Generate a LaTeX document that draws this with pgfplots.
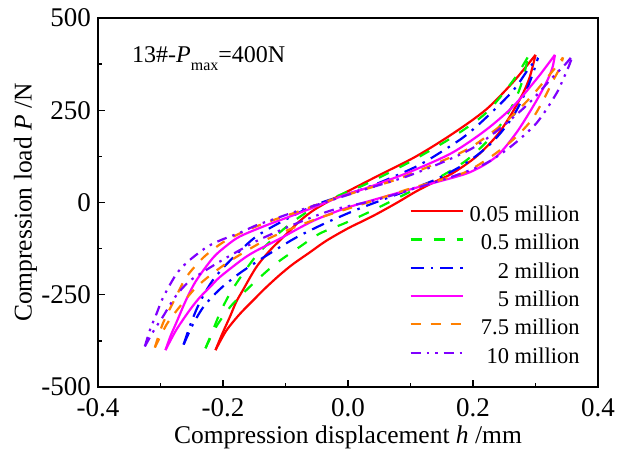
\documentclass[border=0pt]{standalone}
\usepackage{fontspec}
\setmainfont{Liberation Serif}
\usepackage{pgfplots}
\pgfplotsset{compat=1.18}
\definecolor{cred}{RGB}{255,0,0}
\definecolor{cgreen}{RGB}{0,245,0}
\definecolor{cblue}{RGB}{0,0,255}
\definecolor{cmag}{RGB}{255,0,255}
\definecolor{corange}{RGB}{255,128,0}
\definecolor{cpurple}{RGB}{128,0,255}
\begin{document}
\begin{tikzpicture}
\useasboundingbox (-98pt,-78pt) rectangle (520pt,387pt);
\begin{axis}[
  at={(0pt,0pt)}, anchor=south west,
  scale only axis, width=500pt, height=369pt,
  xmin=-0.4, xmax=0.4, ymin=-500, ymax=500,
  xtick={-0.4,-0.2,0,0.2,0.4}, xticklabels={-0.4,-0.2,0.0,0.2,0.4},
  ytick={-500,-250,0,250,500}, yticklabels={-500,-250,0,250,500},
  minor x tick num=1, minor y tick num=1,
  tick align=inside, xtick pos=bottom, ytick pos=left,
  major tick length=7pt, minor tick length=4pt,
  every tick/.style={black, line width=1.3pt},
  axis line style={line width=1.6pt},
  ticklabel style={font=\fontsize{27}{30}\selectfont},
  xticklabel style={anchor=north, inner sep=0pt, yshift=-11pt},
  yticklabel style={anchor=east, inner sep=0pt, xshift=-7pt},
  xlabel={Compression displacement \textit{h} /mm},
  ylabel={Compression load \textit{P} /N},
  label style={font=\fontsize{25.5}{30}\selectfont},
  xlabel style={at={(axis description cs:0.5,-0.1355)}, anchor=center},
  ylabel style={at={(axis description cs:-0.145,0.5)}, anchor=center},
  legend cell align=right,
  legend image code/.code={\draw[#1] (0pt,5pt) -- (52pt,5pt);},
  legend style={draw=none, fill=none, at={(axis cs:0.371,-8)}, anchor=north east,
    inner sep=0pt, row sep=7.3pt, font=\fontsize{22.5}{26}\selectfont,
    nodes={inner sep=0pt, text height=16pt, text depth=5pt},
    /tikz/every odd column/.append style={column sep=6pt}},
  every axis plot/.append style={line width=2.2pt, smooth, tension=0.5},
]
% 0.05 million
\addplot[cred] coordinates {(-0.212,-400) (-0.201,-355) (-0.189,-310) (-0.179,-270) (-0.168,-237) (-0.147,-176) (-0.125,-130) (-0.100,-88) (-0.077,-50) (-0.056,-22) (-0.030,4) (-0.003,28) (0.051,75) (0.109,125) (0.168,187) (0.221,252) (0.264,326) (0.300,400)};
\addlegendentry{0.05 million}
\addplot[cred, forget plot] coordinates {(-0.212,-400) (-0.195,-348) (-0.173,-302) (-0.147,-257) (-0.131,-230) (-0.109,-196) (-0.088,-167) (-0.061,-135) (-0.035,-104) (0.000,-70) (0.024,-50) (0.045,-32) (0.077,-2) (0.109,30) (0.140,57) (0.168,80) (0.205,124) (0.237,179) (0.259,233) (0.280,296) (0.291,341) (0.300,400)};
% 0.5 million
\addplot[cgreen, dash pattern=on 11pt off 12pt] coordinates {(-0.228,-395) (-0.217,-350) (-0.205,-300) (-0.190,-250) (-0.173,-205) (-0.147,-145) (-0.115,-90) (-0.088,-52) (-0.060,-20) (-0.030,7) (0.000,30) (0.029,50) (0.099,110) (0.168,178) (0.221,243) (0.264,330) (0.288,395)};
\addlegendentry{0.5 million}
\addplot[cgreen, dash pattern=on 11pt off 12pt, forget plot] coordinates {(-0.228,-395) (-0.211,-337) (-0.189,-284) (-0.163,-238) (-0.141,-203) (-0.115,-165) (-0.077,-120) (-0.045,-84) (-0.005,-56) (0.035,-25) (0.072,6) (0.110,38) (0.150,72) (0.190,115) (0.225,170) (0.250,225) (0.268,280) (0.280,335) (0.288,395)};
% 2 million
\addplot[cblue, dash pattern=on 13pt off 7pt on 2.5pt off 7pt] coordinates {(-0.263,-385) (-0.252,-330) (-0.237,-270) (-0.216,-210) (-0.189,-158) (-0.149,-95) (-0.104,-50) (-0.050,-5) (-0.003,21) (0.045,50) (0.100,90) (0.131,118) (0.184,176) (0.221,230) (0.264,303) (0.290,365) (0.304,392)};
\addlegendentry{2 million}
\addplot[cblue, dash pattern=on 13pt off 7pt on 2.5pt off 7pt, forget plot] coordinates {(-0.263,-385) (-0.248,-330) (-0.230,-280) (-0.205,-235) (-0.176,-195) (-0.150,-165) (-0.125,-138) (-0.083,-95) (-0.035,-55) (0.013,-20) (0.050,4) (0.088,28) (0.140,62) (0.190,108) (0.230,162) (0.262,228) (0.283,295) (0.296,350) (0.304,392)};
% 5 million
\addplot[cmag] coordinates {(-0.292,-400) (-0.284,-362) (-0.275,-327) (-0.259,-264) (-0.243,-212) (-0.216,-150) (-0.195,-118) (-0.173,-92) (-0.131,-62) (-0.093,-38) (-0.050,-10) (-0.003,22) (0.024,36) (0.067,62) (0.109,90) (0.168,136) (0.221,197) (0.264,260) (0.301,333) (0.320,375) (0.331,400)};
\addlegendentry{5 million}
\addplot[cmag, forget plot] coordinates {(-0.292,-400) (-0.275,-346) (-0.253,-291) (-0.237,-257) (-0.220,-228) (-0.205,-202) (-0.168,-153) (-0.147,-131) (-0.109,-98) (-0.056,-50) (-0.003,-15) (0.051,12) (0.109,40) (0.141,55) (0.195,82) (0.237,124) (0.269,188) (0.296,260) (0.317,324) (0.327,365) (0.331,400)};
% 7.5 million
\addplot[corange, dash pattern=on 10pt off 10pt] coordinates {(-0.309,-393) (-0.296,-327) (-0.275,-255) (-0.259,-203) (-0.232,-150) (-0.200,-108) (-0.163,-76) (-0.120,-48) (-0.077,-23) (-0.040,0) (0.020,32) (0.077,62) (0.147,110) (0.197,150) (0.253,220) (0.291,283) (0.317,335) (0.334,370) (0.344,393)};
\addlegendentry{7.5 million}
\addplot[corange, dash pattern=on 10pt off 10pt, forget plot] coordinates {(-0.309,-393) (-0.290,-330) (-0.269,-282) (-0.243,-230) (-0.211,-185) (-0.179,-148) (-0.125,-96) (-0.051,-45) (0.035,2) (0.100,38) (0.150,62) (0.189,83) (0.227,122) (0.264,170) (0.293,222) (0.312,276) (0.328,330) (0.339,365) (0.344,393)};
% 10 million
\addplot[cpurple, dash pattern=on 10pt off 6pt on 2.5pt off 6pt on 2.5pt off 6pt] coordinates {(-0.325,-390) (-0.317,-346) (-0.306,-300) (-0.296,-258) (-0.275,-195) (-0.256,-160) (-0.227,-122) (-0.205,-103) (-0.173,-82) (-0.147,-62) (-0.115,-43) (-0.088,-27) (-0.029,5) (0.030,37) (0.093,70) (0.150,108) (0.200,148) (0.245,203) (0.290,270) (0.325,335) (0.348,375) (0.360,400)};
\addlegendentry{10 million}
\addplot[cpurple, dash pattern=on 10pt off 6pt on 2.5pt off 6pt on 2.5pt off 6pt, forget plot] coordinates {(-0.325,-390) (-0.310,-345) (-0.296,-309) (-0.277,-257) (-0.255,-215) (-0.227,-183) (-0.200,-155) (-0.173,-129) (-0.141,-100) (-0.080,-55) (-0.024,-20) (0.045,7) (0.120,45) (0.170,72) (0.216,102) (0.250,138) (0.275,172) (0.300,212) (0.317,251) (0.335,300) (0.344,333) (0.353,368) (0.360,400)};
\node[anchor=base west, inner sep=0pt, font=\fontsize{24}{28}\selectfont] at (axis cs:-0.3456,379) {13\#-\textit{P}\raisebox{-8pt}{\fontsize{16}{18}\selectfont max}=400N};
\end{axis}
\end{tikzpicture}
\end{document}
